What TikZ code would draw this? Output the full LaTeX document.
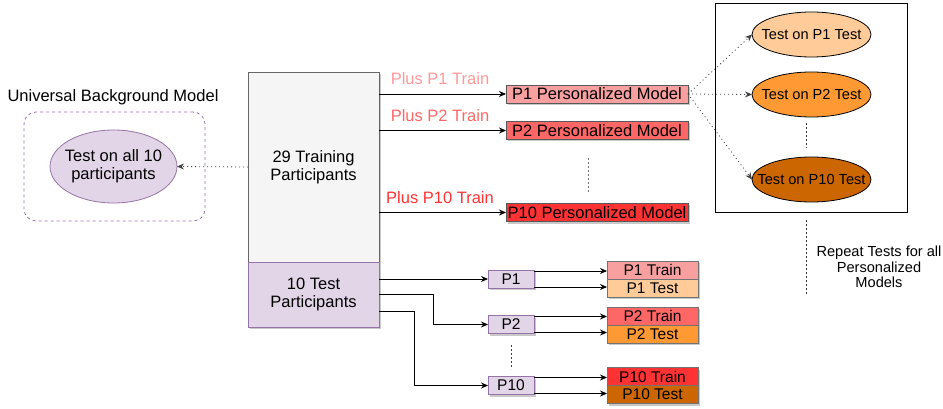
\documentclass[tikz,border=0pt]{standalone}
\usepackage{fontspec}
\setmainfont{Liberation Sans}
\usetikzlibrary{arrows.meta,shapes.geometric,shadows,calc}
\definecolor{purpF}{HTML}{E1D5E7}
\definecolor{purpD}{HTML}{9673A6}
\definecolor{greyF}{HTML}{F5F5F5}
\definecolor{redA}{HTML}{F8A0A0}
\definecolor{redB}{HTML}{FF6666}
\definecolor{redC}{HTML}{FF3333}
\definecolor{orA}{HTML}{FFCC99}
\definecolor{orB}{HTML}{FF9933}
\definecolor{orC}{HTML}{CC6600}
\definecolor{plusA}{HTML}{FF9999}
\definecolor{plusB}{HTML}{FF6666}
\definecolor{plusC}{HTML}{FF3333}
\begin{document}
\begin{tikzpicture}[x=1pt,y=-1pt,
  every node/.style={inner sep=0pt, outer sep=0pt, text=black},
  big/.style={font=\fontsize{16.5}{18}\selectfont},
  mid/.style={font=\fontsize{15.5}{17}\selectfont},
  sml/.style={font=\fontsize{14.6}{15.5}\selectfont},
  shd/.style={drop shadow={shadow xshift=2pt,shadow yshift=-2pt,opacity=0.3,fill=black!70}},
  arr/.style={draw=black, line width=0.8pt, -{Stealth[length=7pt,width=6pt]}},
  dotarr/.style={draw=black!75, line width=0.8pt, dash pattern=on 1pt off 3pt, -{Stealth[length=7pt,width=6pt]}},
  sep/.style={draw=black!75, line width=0.8pt, dash pattern=on 2pt off 2pt},
  pmbox/.style={draw=black!65, line width=0.8pt, shd, big, minimum width=182pt, minimum height=18pt},
  pbox/.style={draw=purpD, fill=purpF, line width=0.8pt, shd, mid, minimum width=46pt, minimum height=18pt},
  tbox/.style={draw=black!55, line width=0.8pt, shd, mid, minimum width=91pt, minimum height=18pt},
  tell/.style={ellipse, draw=black, line width=0.8pt, sml, minimum width=119pt, minimum height=45pt}
]
\useasboundingbox (0,0) rectangle (943,409);

% Universal background model
\node[big, anchor=center] (ubmlabel) at (113,97) {Universal Background Model};
\node[draw=purpD, line width=0.8pt, dash pattern=on 3pt off 3pt, rounded corners=12pt,
      minimum width=181pt, minimum height=109pt] (ubmbox) at (114.5,166.5) {};
\node[ellipse, draw=purpD, fill=purpF, line width=0.8pt,
      minimum width=127pt, minimum height=73pt] (ubm) at (113.5,166.5) {};
\node[big, align=center] (ubmtext) at (ubm.center) {Test on all 10\\participants};

% big boxes
\node[draw=black!60, fill=greyF, line width=0.8pt, shd, big, align=center,
      minimum width=131pt, minimum height=190pt] (train) at (313.5,167) {29 Training\\Participants};
\node[draw=purpD, fill=purpF, line width=0.8pt, shd, big, align=center,
      minimum width=131pt, minimum height=65pt] (test) at (313.5,294.5) {10 Test\\Participants};

\draw[dotarr] (train.west) -- (ubm.east);

% personalized models
\node[pmbox, fill=redA] (pm1) at (597,94) {P1 Personalized Model};
\node[pmbox, fill=redB] (pm2) at (597,130.5) {P2 Personalized Model};
\node[pmbox, fill=redC] (pm10) at (597,212.5) {P10 Personalized Model};

\draw[arr] (train.east |- pm1.west) -- (pm1.west);
\draw[arr] (train.east |- pm2.west) -- (pm2.west);
\draw[arr] (train.east |- pm10.west) -- (pm10.west);

\node[big, text=plusA] (l1) at (440,79) {Plus P1 Train};
\node[big, text=plusB] (l2) at (440,116) {Plus P2 Train};
\node[big, text=plusC] (l10) at (440,197.5) {Plus P10 Train};

\coordinate (pmdA) at (588,158);
\coordinate (pmdB) at (588,193);
\draw[sep, draw=black!55] (pmdA) -- (pmdB);

% right test box
\node[draw=black, line width=0.8pt, minimum width=192pt, minimum height=209pt] (rbox) at (811,107.5) {};
\node[tell, fill=orA] (t1) at (811.5,34.5) {\makebox[0pt]{Test on P1 Test}};
\node[tell, fill=orB] (t2) at (811.5,94.5) {\makebox[0pt]{Test on P2 Test}};
\node[tell, fill=orC] (t10) at (811.5,179.5) {\makebox[0pt]{Test on P10 Test}};
\coordinate (tdA) at (806,123);
\coordinate (tdB) at (806,148);
\draw[sep, draw=black!80] (tdA) -- (tdB);

\draw[dotarr] (pm1.east) -- (t1.west);
\draw[dotarr] (pm1.east) -- (t2.west);
\draw[dotarr] (pm1.east) -- (t10.west);

\coordinate (rdA) at (806,220);
\coordinate (rdB) at (806,295);
\draw[sep, draw=black!80] (rdA) -- (rdB);
\node[sml, align=center] (repeat) at (879,267) {Repeat Tests for all\\Personalized\\Models};

% participant boxes
\node[pbox] (p1) at (511,279) {P1};
\node[pbox] (p2) at (511,324.5) {P2};
\node[pbox] (p10) at (511,385.5) {P10};

\draw[arr] ([yshift=15.5pt]test.east) -- ([yshift=15.5pt]test.east -| p1.west);
\draw[arr] (test.east) -- (433,294.5) |- (p2.west);
\draw[arr] ([yshift=-16.5pt]test.east) -- (414,311) |- (p10.west);

\coordinate (pdA) at (511,345);
\coordinate (pdB) at (511,369);
\draw[sep] (pdA) -- (pdB);

% train / test splits
\node[tbox, fill=redA] (tr1) at (652.5,270) {P1 Train};
\node[tbox, fill=orA] (te1) at (652.5,288) {P1 Test};
\node[tbox, fill=redB] (tr2) at (652.5,316) {P2 Train};
\node[tbox, fill=orB] (te2) at (652.5,334) {P2 Test};
\node[tbox, fill=redC] (tr10) at (652.5,376.5) {P10 Train};
\node[tbox, fill=orC] (te10) at (652.5,394.5) {P10 Test};

\draw[arr] ([yshift=8pt]p1.east) -- ([yshift=8pt]p1.east -| tr1.west);
\draw[arr] ([yshift=-8pt]p1.east) -- ([yshift=-8pt]p1.east -| te1.west);
\draw[arr] ([yshift=8pt]p2.east) -- ([yshift=8pt]p2.east -| tr2.west);
\draw[arr] ([yshift=-8pt]p2.east) -- ([yshift=-8pt]p2.east -| te2.west);
\draw[arr] ([yshift=8pt]p10.east) -- ([yshift=8pt]p10.east -| tr10.west);
\draw[arr] ([yshift=-8pt]p10.east) -- ([yshift=-8pt]p10.east -| te10.west);
\end{tikzpicture}
\end{document}
